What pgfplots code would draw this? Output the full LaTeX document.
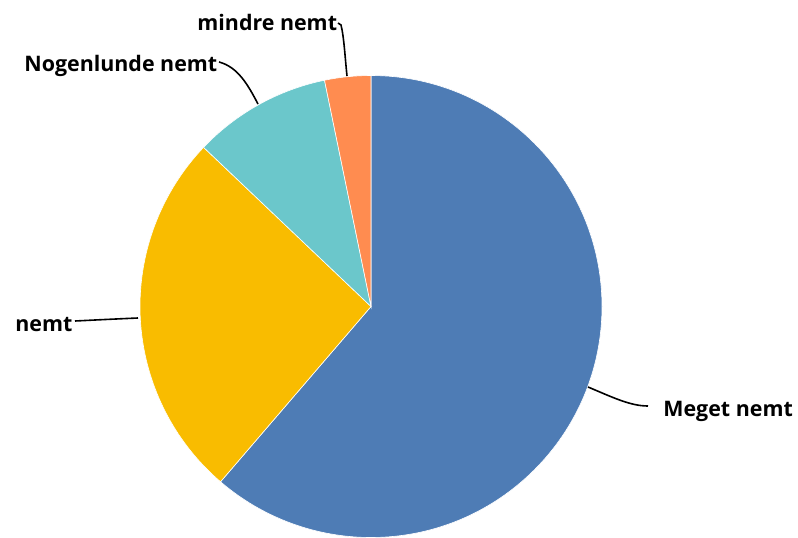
\documentclass[border=0pt]{standalone}
\usepackage{pgfplots}
\pgfplotsset{compat=1.18}
\usepackage{fontspec}
\setmainfont{Open Sans}
\definecolor{cBlue}{HTML}{4E7CB5}
\definecolor{cYellow}{HTML}{F9BC00}
\definecolor{cTeal}{HTML}{6BC7CB}
\definecolor{cOrange}{HTML}{FF8C50}
% values (counts): Meget nemt, nemt, Nogenlunde nemt, mindre nemt
\def\vA{19}
\def\vB{8}
\def\vC{3}
\def\vD{1}
\pgfmathsetmacro\tot{\vA+\vB+\vC+\vD}
\pgfmathsetmacro\aA{90}
\pgfmathsetmacro\aB{\aA-360*\vA/\tot}
\pgfmathsetmacro\aC{\aB-360*\vB/\tot}
\pgfmathsetmacro\aD{\aC-360*\vC/\tot}
\pgfmathsetmacro\aE{\aD-360*\vD/\tot}
\def\R{115.5pt}
\newcommand\labfont{\fontsize{10.7}{12}\selectfont\bfseries}
\begin{document}
\begin{tikzpicture}
\useasboundingbox (0,0) rectangle (399pt,268.5pt);
\clip (0,0) rectangle (399pt,268.5pt);
\begin{axis}[
  scale only axis, width=399pt, height=268.5pt,
  xmin=0, xmax=798, ymin=0, ymax=537,
  hide axis, clip=false,
]
\addplot[draw=none] coordinates {(0,0) (798,537)};
\coordinate (C) at (axis cs:371,230.5);
\fill[cBlue, draw=white, line width=0.3pt] (C) -- ++(\aA:\R) arc[start angle=\aA, end angle=\aB, radius=\R] -- cycle;
\fill[cYellow, draw=white, line width=0.3pt] (C) -- ++(\aB:\R) arc[start angle=\aB, end angle=\aC, radius=\R] -- cycle;
\fill[cTeal, draw=white, line width=0.3pt] (C) -- ++(\aC:\R) arc[start angle=\aC, end angle=\aD, radius=\R] -- cycle;
\fill[cOrange, draw=white, line width=0.3pt] (C) -- ++(\aD:\R) arc[start angle=\aD, end angle=\aE, radius=\R] -- cycle;
% leader lines
\draw[black, line width=0.8pt] (axis cs:588,150) .. controls (axis cs:612,140) and (axis cs:630,131) .. (axis cs:648,131);
\draw[black, line width=0.8pt] (axis cs:138,219) .. controls (axis cs:115,218) and (axis cs:95,217) .. (axis cs:75,216);
\draw[black, line width=0.8pt] (axis cs:258,433) .. controls (axis cs:248,452) and (axis cs:238,470) .. (axis cs:219,475);
\draw[black, line width=0.8pt] (axis cs:347,461) .. controls (axis cs:345,480) and (axis cs:344,500) .. (axis cs:341,512) -- (axis cs:338,514);
% labels
\node[anchor=base west, inner sep=0pt, font=\labfont] at (axis cs:663,121) {Meget nemt};
\node[anchor=base west, inner sep=0pt, font=\labfont] at (axis cs:15,206) {nemt};
\node[anchor=base west, inner sep=0pt, font=\labfont] at (axis cs:24,466) {Nogenlunde nemt};
\node[anchor=base west, inner sep=0pt, font=\labfont] at (axis cs:197,506) {mindre nemt};
\end{axis}
\end{tikzpicture}
\end{document}
